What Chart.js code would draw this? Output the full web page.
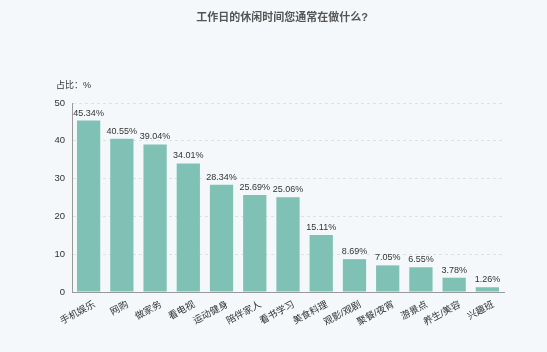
<!DOCTYPE html>
<html><head><meta charset="utf-8">
<script src="https://cdn.jsdelivr.net/npm/chart.js@4"></script>
<style>html,body{margin:0;padding:0;background:#f4f8fb;}#wrap{width:547px;height:352px;position:relative;}</style>
</head><body><div id="wrap"><canvas id="c" width="547" height="352"></canvas></div>
<script>
const categories = ['手机娱乐','网购','做家务','看电视','运动健身','陪伴家人','看书学习','美食料理','观影/观剧','聚餐/夜宵','游景点','养生/美容','兴趣班'];
const values = [45.34,40.55,39.04,34.01,28.34,25.69,25.06,15.11,8.69,7.05,6.55,3.78,1.26];
const yTicks = [0,10,20,30,40,50];
const titleText = '工作日的休闲时间您通常在做什么?';
const yUnitText = '占比：%';
const FONT = '"Liberation Sans", "Noto Sans CJK SC", sans-serif';

const labelPlugin = {
  id:'labels',
  afterDatasetsDraw(chart){
    const ctx = chart.ctx;
    const meta = chart.getDatasetMeta(0);
    ctx.save();
    ctx.font = '9px ' + FONT;
    ctx.fillStyle = '#333';
    ctx.textAlign = 'center';
    ctx.textBaseline = 'alphabetic';
    meta.data.forEach((bar,i)=>{
      ctx.fillText(values[i].toFixed(2)+'%', bar.x, bar.y - 5);
    });
    ctx.font = '9px ' + FONT;
    ctx.textAlign = 'left';
    ctx.textBaseline = 'middle';
    ctx.fillText(yUnitText, 56, 86);
    ctx.font = 'bold 11px ' + FONT;
    ctx.fillStyle = '#555';
    ctx.textAlign = 'center';
    ctx.fillText(titleText, 282, 18);
    ctx.restore();
  }
};

new Chart(document.getElementById('c'), {
  type:'bar',
  data:{labels:categories, datasets:[{data:values, backgroundColor:'#80c1b5', barPercentage:0.7, categoryPercentage:1.0}]},
  options:{
    responsive:false, animation:false,
    layout:{padding:{left:0,right:43,top:103,bottom:0}},
    plugins:{
      legend:{display:false}, tooltip:{enabled:false}, title:{display:false}
    },
    scales:{
      x:{
        afterFit(s){ s.height = 60; },
        grid:{display:false, drawTicks:false},
        border:{display:true, color:'#999'},
        ticks:{color:'#333', font:{size:9.5, family:FONT}, maxRotation:28, minRotation:28, padding:7, labelOffset:6}
      },
      y:{
        min:0, max:50,
        afterFit(s){ s.width = 72; },
        afterBuildTicks(s){ s.ticks = yTicks.map(v=>({value:v})); },
        grid:{color:'#dde2e6', drawTicks:false},
        border:{display:true, color:'#999', dash:[3,3]},
        ticks:{color:'#333', font:{size:9.5, family:FONT}, padding:7}
      }
    }
  },
  plugins:[labelPlugin]
});
</script></body></html>
